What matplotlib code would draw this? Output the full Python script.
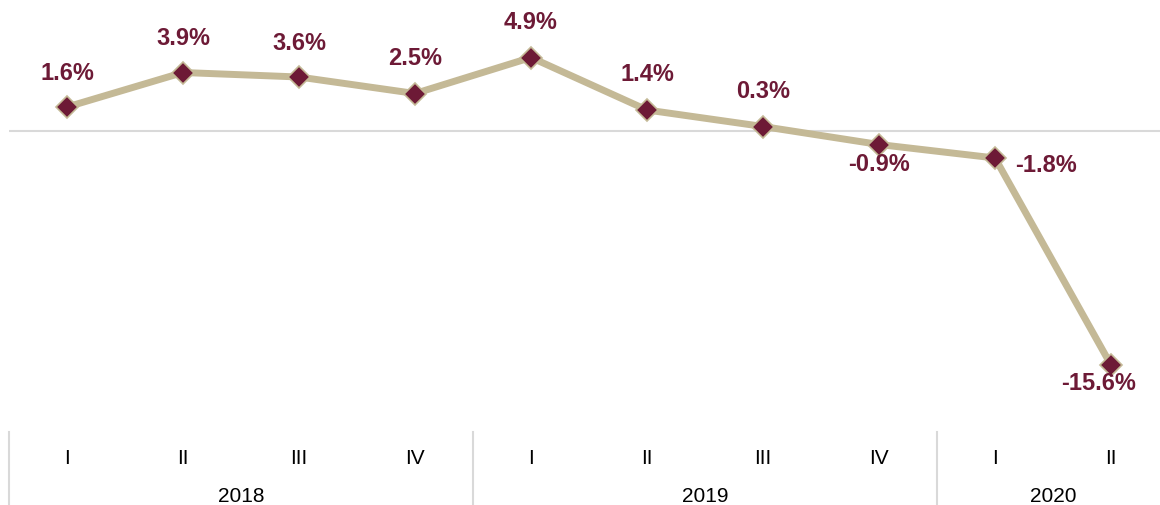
import matplotlib.pyplot as plt
from matplotlib.lines import Line2D

plt.rcParams['font.family'] = ['Liberation Sans', 'DejaVu Sans']

quarters = ["I", "II", "III", "IV", "I", "II", "III", "IV", "I", "II"]
years = ["2018", "2019", "2020"]
year_sizes = [4, 4, 2]
growth = [1.6, 3.9, 3.6, 2.5, 4.9, 1.4, 0.3, -0.9, -1.8, -15.6]

# label offsets in pixels (dx, dy)
offsets = [(0, 34), (0, 34), (0, 34), (0, 35), (0, 35), (0, 36), (0, 35),
           (0, -20), (51, -7), (-12, -18)]

LINE = "#c4b996"
MAROON = "#6d1a36"
SEP = "#d9d9d9"

W, H = 1160, 505
fig = plt.figure(figsize=(W / 100, H / 100), dpi=100)
# plot area: x from 9px to 1169px, y from 0 to 420px
ax = fig.add_axes([9 / W, (H - 420) / H, 1160 / W, 420 / H])
ax.set_xlim(-0.5, len(growth) - 0.5)
ax.set_ylim(-(420 - 131) / 15.0, 131 / 15.0)
ax.axis("off")

ax.axhline(0, color=SEP, lw=1.5, zorder=1)
x = list(range(len(growth)))
ax.plot(x, growth, color=LINE, lw=5, zorder=2,
        marker="D", markersize=11, markerfacecolor=MAROON,
        markeredgecolor=LINE, markeredgewidth=1.2)

for i, v in enumerate(growth):
    dx, dy = offsets[i]
    ax.annotate(f"{v:.1f}%", (i, v), xytext=(dx, dy), textcoords="offset pixels",
                ha="center", va="center", fontsize=17, fontweight="bold",
                color=MAROON, zorder=3)

# category axis below
ax2 = fig.add_axes([9 / W, 0, 1160 / W, (H - 420) / H])
ax2.set_xlim(-0.5, len(growth) - 0.5)
ax2.set_ylim(0, H - 420)
ax2.axis("off")
for i, q in enumerate(quarters):
    ax2.text(i, H - 458, q, ha="center", va="center", fontsize=15, color="#000000")
start = 0
for yname, n in zip(years, year_sizes):
    ax2.text(start + (n - 1) / 2, H - 496, yname, ha="center", va="center",
             fontsize=15, color="#000000")
    start += n
edges = [-0.5]
for n in year_sizes:
    edges.append(edges[-1] + n)
for e in edges:
    ax2.add_line(Line2D([e, e], [0, H - 432], color=SEP, lw=1.5, clip_on=False))

fig.savefig("out.png", dpi=100)
